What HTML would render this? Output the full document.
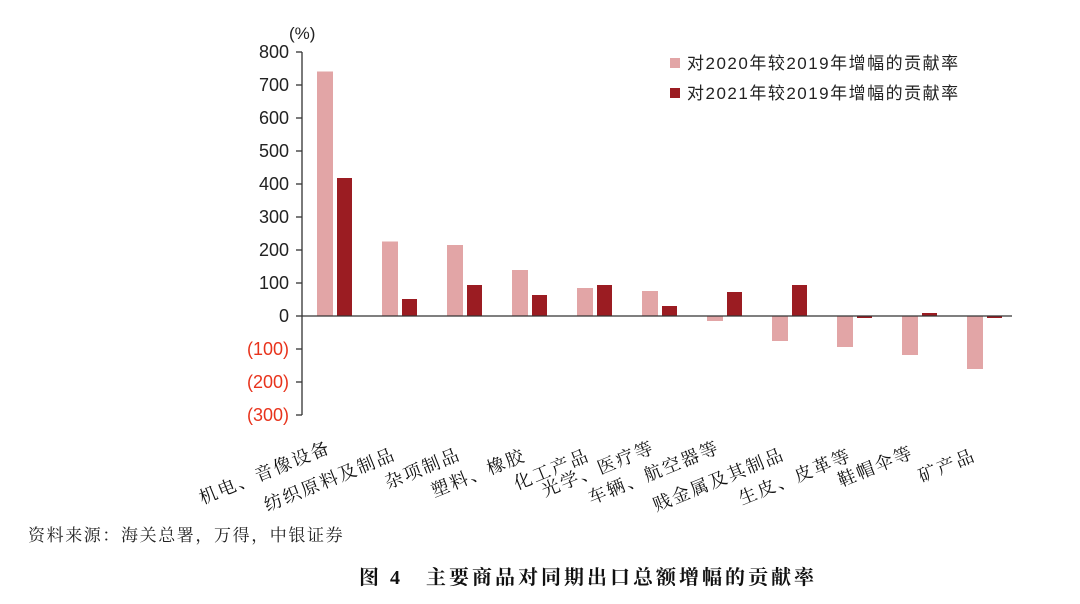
<!DOCTYPE html>
<html><head><meta charset="utf-8"><style>
body{margin:0;background:#fff}
svg text{font-family:"Liberation Sans","Noto Sans CJK SC",sans-serif}
.serif{font-family:"Liberation Serif","Noto Serif CJK SC",serif !important}
</style></head><body>
<svg width="1080" height="599" viewBox="0 0 1080 599" xmlns="http://www.w3.org/2000/svg">
<rect width="1080" height="599" fill="#fff"/>
<text x="289" y="39" font-size="17" fill="#222">(%)</text>
<g font-size="18" fill="#222" text-anchor="end">
<text x="289" y="58">800</text>
<text x="289" y="91">700</text>
<text x="289" y="124">600</text>
<text x="289" y="157">500</text>
<text x="289" y="190">400</text>
<text x="289" y="223">300</text>
<text x="289" y="256">200</text>
<text x="289" y="289">100</text>
<text x="289" y="322">0</text>
<text x="289" y="355" fill="#e8331c">(100)</text>
<text x="289" y="388" fill="#e8331c">(200)</text>
<text x="289" y="421" fill="#e8331c">(300)</text>
</g>
<g stroke="#333" stroke-width="1.3">
<line x1="302" y1="52" x2="302" y2="415"/>
<line x1="296" y1="52" x2="302" y2="52"/><line x1="296" y1="85" x2="302" y2="85"/>
<line x1="296" y1="118" x2="302" y2="118"/><line x1="296" y1="151" x2="302" y2="151"/>
<line x1="296" y1="184" x2="302" y2="184"/><line x1="296" y1="217" x2="302" y2="217"/>
<line x1="296" y1="250" x2="302" y2="250"/><line x1="296" y1="283" x2="302" y2="283"/>
<line x1="296" y1="316" x2="302" y2="316"/><line x1="296" y1="349" x2="302" y2="349"/>
<line x1="296" y1="382" x2="302" y2="382"/><line x1="296" y1="415" x2="302" y2="415"/>
</g>
<g fill="#e2a5a6">
<rect x="317" y="71.5" width="16" height="244.5"/>
<rect x="382" y="241.5" width="16" height="74.5"/>
<rect x="447" y="245" width="16" height="71"/>
<rect x="512" y="270" width="16" height="46"/>
<rect x="577" y="288" width="16" height="28"/>
<rect x="642" y="291" width="16" height="25"/>
<rect x="707" y="316" width="16" height="5"/>
<rect x="772" y="316" width="16" height="25"/>
<rect x="837" y="316" width="16" height="31"/>
<rect x="902" y="316" width="16" height="39"/>
<rect x="967" y="316" width="16" height="53"/>
</g>
<g fill="#9b1c22">
<rect x="337" y="178" width="15" height="138"/>
<rect x="402" y="299" width="15" height="17"/>
<rect x="467" y="285" width="15" height="31"/>
<rect x="532" y="295" width="15" height="21"/>
<rect x="597" y="285" width="15" height="31"/>
<rect x="662" y="306" width="15" height="10"/>
<rect x="727" y="292" width="15" height="24"/>
<rect x="792" y="285" width="15" height="31"/>
<rect x="857" y="316" width="15" height="2"/>
<rect x="922" y="313" width="15" height="3"/>
<rect x="987" y="316" width="15" height="2"/>
</g>
<line x1="302" y1="316" x2="1012" y2="316" stroke="#333" stroke-width="1.3"/>
<g font-size="18" fill="#111" text-anchor="end" letter-spacing="2" class="serif">
<text class="serif" transform="translate(332,452) rotate(-22)">机电、音像设备</text>
<text class="serif" transform="translate(397,459) rotate(-22)">纺织原料及制品</text>
<text class="serif" transform="translate(462,459) rotate(-22)">杂项制品</text>
<text class="serif" transform="translate(527,460) rotate(-22)">塑料、橡胶</text>
<text class="serif" transform="translate(591,460) rotate(-22)">化工产品</text>
<text class="serif" transform="translate(656,452) rotate(-22)">光学、医疗等</text>
<text class="serif" transform="translate(721,452) rotate(-22)">车辆、航空器等</text>
<text class="serif" transform="translate(786,459) rotate(-22)">贱金属及其制品</text>
<text class="serif" transform="translate(853,460) rotate(-22)">生皮、皮革等</text>
<text class="serif" transform="translate(915,457) rotate(-22)">鞋帽伞等</text>
<text class="serif" transform="translate(977,460) rotate(-22)">矿产品</text>
</g>
<rect x="670" y="58" width="10" height="10" fill="#e2a5a6"/>
<rect x="670" y="88" width="10" height="10" fill="#9b1c22"/>
<g font-size="17" fill="#222" letter-spacing="1.5">
<text x="687" y="69">对2020年较2019年增幅的贡献率</text>
<text x="687" y="99">对2021年较2019年增幅的贡献率</text>
</g>
<text class="serif" x="28" y="541" font-size="17" letter-spacing="1.6" fill="#222">资料来源：海关总署，万得，中银证券</text>
<text class="serif" x="588" y="584" font-size="20" letter-spacing="3" font-weight="bold" fill="#111" text-anchor="middle">图 4　主要商品对同期出口总额增幅的贡献率</text>
</svg>
</body></html>
